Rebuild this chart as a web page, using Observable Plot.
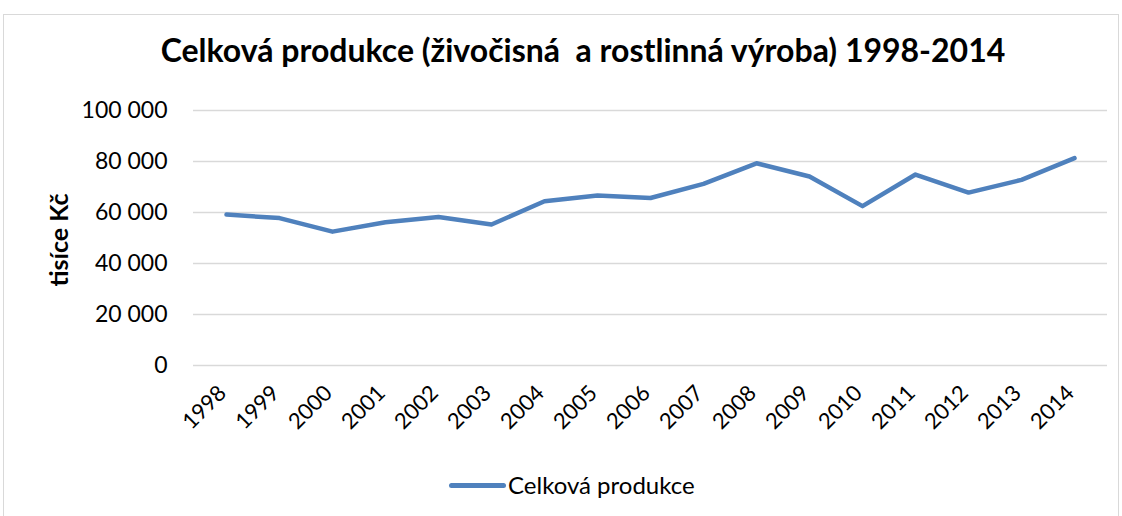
<!DOCTYPE html>
<html>
<head>
<meta charset="utf-8">
<script src="https://cdn.jsdelivr.net/npm/d3@7"></script>
<script src="https://cdn.jsdelivr.net/npm/@observablehq/plot@0.6"></script>
<style>
  html, body { margin: 0; padding: 0; background: #fff; }
  body { width: 1122px; height: 516px; position: relative; overflow: hidden; font-family: Lato, "Open Sans", sans-serif; }
  #frame { position: absolute; left: 3px; top: 14px; width: 1116px; height: 520px; border: 1px solid #d9d9d9; box-sizing: border-box; }
  #title { position: absolute; left: 0; top: 30px; width: 1166px; text-align: center; font-weight: bold; font-size: 32px; line-height: 40px; color: #000; white-space: pre; }
  #chart { position: absolute; left: 0; top: 90px; }
  #ylabel { position: absolute; left: 58px; top: 240px; transform: translate(-50%, -50%) rotate(-90deg); font-weight: bold; font-size: 25px; color: #000; white-space: nowrap; }
  #legend { position: absolute; left: 449px; top: 469px; display: flex; align-items: center; font-size: 24px; line-height: 32px; color: #000; }
  #legend .sw { width: 57px; height: 5px; background: #4f81bd; border-radius: 3px; margin-right: 2px; }
</style>
</head>
<body>
<div id="frame"></div>
<div id="title">Celková produkce (živočisná  a rostlinná výroba) 1998-2014</div>
<div id="chart"></div>
<div id="ylabel">tisíce Kč</div>
<div id="legend"><div class="sw"></div><span>Celková produkce</span></div>
<script>
const years = ["1998","1999","2000","2001","2002","2003","2004","2005","2006","2007","2008","2009","2010","2011","2012","2013","2014"];
const production = [59200, 57800, 52500, 56200, 58200, 55300, 64400, 66700, 65700, 71200, 79300, 74100, 62500, 74900, 67800, 72800, 81300];
const yTicks = [0, 20000, 40000, 60000, 80000, 100000];

const data = years.map((y, i) => ({year: y, value: production[i]}));
const fmt = n => String(n).replace(/\B(?=(\d{3})+(?!\d))/g, " ");

const chart = Plot.plot({
  width: 1122,
  height: 360,
  marginLeft: 193,
  marginRight: 15,
  marginTop: 20,
  marginBottom: 85,
  style: { fontFamily: "Lato, 'Open Sans', sans-serif", fontSize: "22px", color: "#000", background: "transparent" },
  x: { type: "point", domain: years, padding: 0.5, label: null },
  y: { domain: [0, 100000], label: null },
  marks: [
    Plot.ruleY(yTicks, { stroke: "#d9d9d9", strokeWidth: 1.5 }),
    Plot.axisY({ ticks: yTicks, tickFormat: fmt, tickSize: 0, tickPadding: 26, fontSize: 23, fill: "#000" }),
    Plot.axisX({ tickSize: 0, tickRotate: -45, tickPadding: 24, dx: -4, fontSize: 22, fill: "#000" }),
    Plot.line(data, { x: "year", y: "value", stroke: "#4f81bd", strokeWidth: 4.5, strokeLinejoin: "round", strokeLinecap: "round" })
  ]
});
document.getElementById("chart").appendChild(chart);
</script>
</body>
</html>
